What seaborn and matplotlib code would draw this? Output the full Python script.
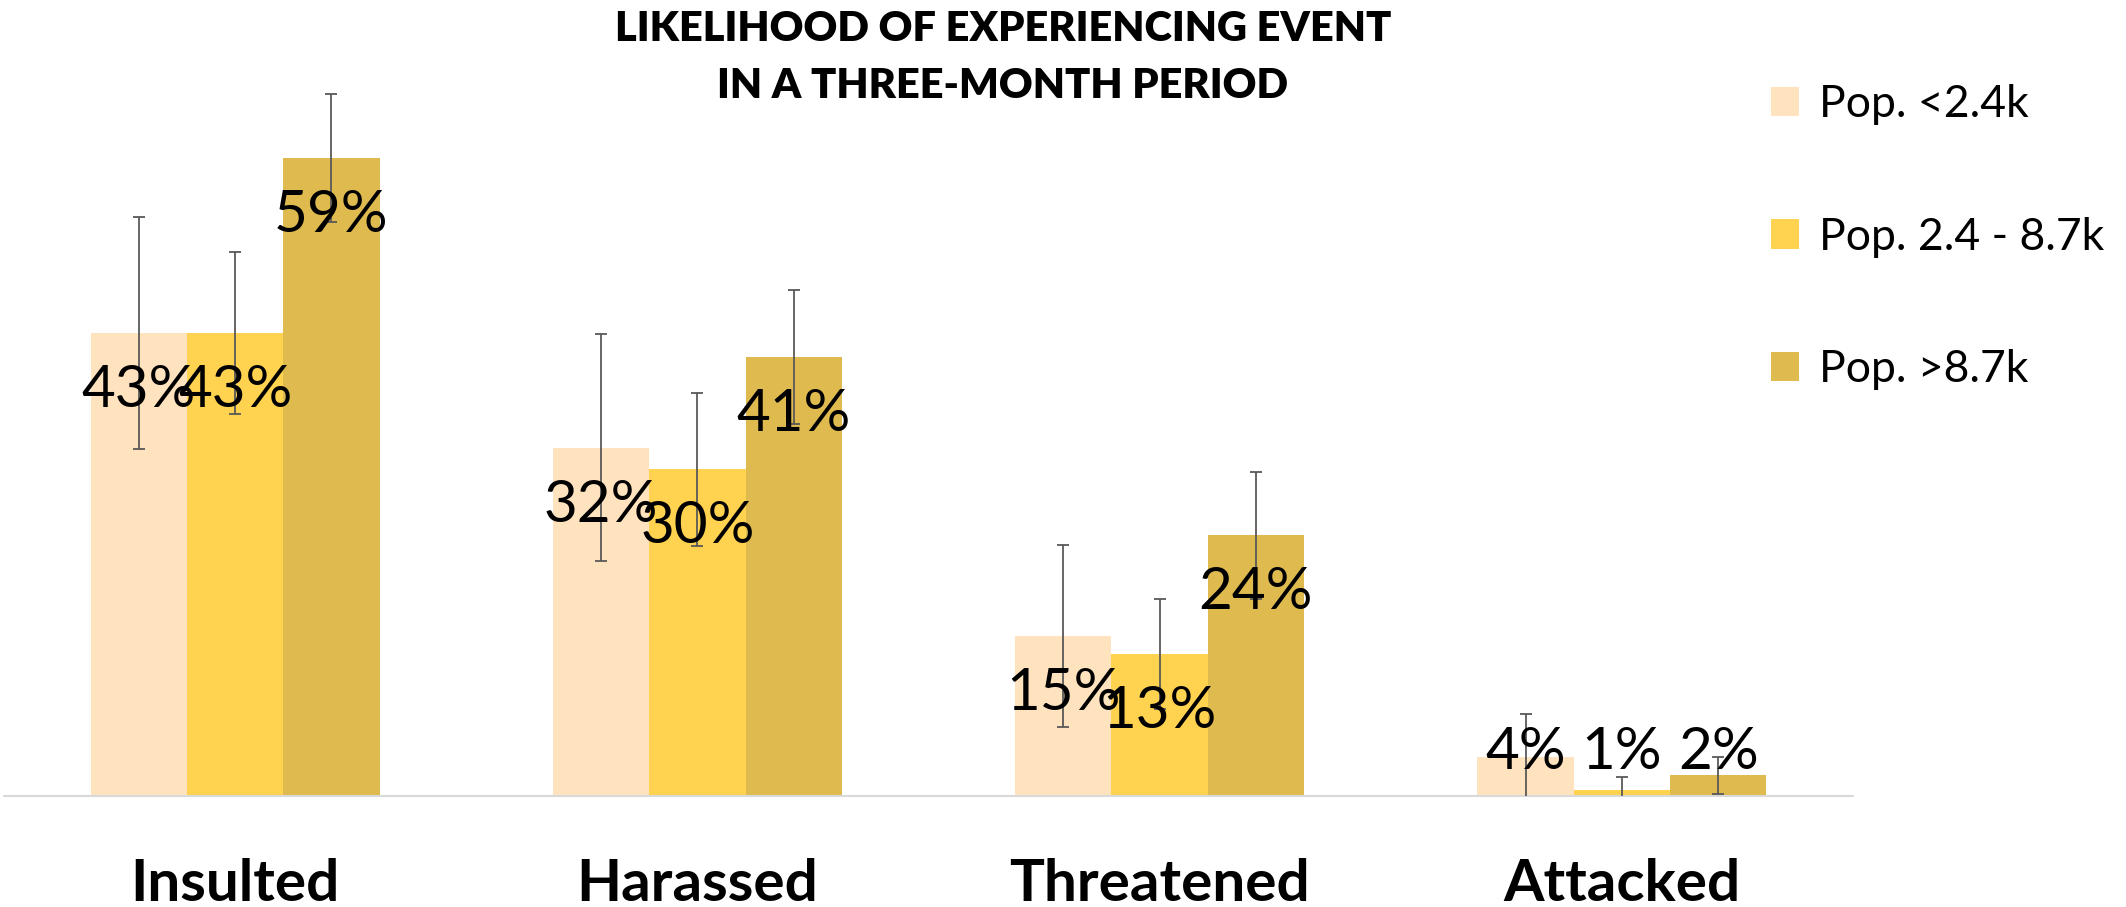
import pandas as pd
import matplotlib.pyplot as plt
import seaborn as sns

events = ['Insulted', 'Harassed', 'Threatened', 'Attacked']
groups = ['Pop. <2.4k', 'Pop. 2.4 - 8.7k', 'Pop. >8.7k']
colors = ['#FFE3BF', '#FFD24F', '#DFBB4F']

# % likelihood per event, one list per population group
small = [42.8, 32.2, 14.8, 3.6]
medium = [42.8, 30.2, 13.1, 0.6]
large = [59.0, 40.6, 24.1, 1.9]

# error bar half-lengths
small_err = [10.7, 10.5, 8.4, 4.0]
medium_err = [7.5, 7.1, 5.1, 1.2]
large_err = [5.9, 6.2, 5.9, 1.75]

rows = []
for g, vals, errs in zip(groups, [small, medium, large], [small_err, medium_err, large_err]):
    for e, v, er in zip(events, vals, errs):
        rows.append({'event': e, 'group': g, 'pct': v, 'err': er})
df = pd.DataFrame(rows)

sns.set_style('white')
plt.rcParams['font.family'] = ['Lato', 'DejaVu Sans']
plt.rcParams['text.color'] = 'black'
plt.rcParams['xtick.color'] = 'black'

fig = plt.figure(figsize=(21.26, 9.07), dpi=100)
ax = fig.add_axes([4/2126, 111/907, 1849/2126, 757/907])
sns.barplot(data=df, x='event', y='pct', hue='group', order=events, hue_order=groups,
            palette=colors, width=0.625, gap=0, errorbar=None, saturation=1,
            linewidth=0, ax=ax)

# custom error bars + data labels on each bar
for cont, g in zip(ax.containers, groups):
    sub = df[df['group'] == g].set_index('event').loc[events]
    xs = [p.get_x() + p.get_width() / 2 for p in cont]
    ax.errorbar(xs, sub['pct'], yerr=sub['err'], fmt='none', ecolor='#595959',
                elinewidth=1.3, capsize=4.3, capthick=1.3, zorder=3)
    for x, v in zip(xs, sub['pct']):
        y = max(v - 4.9, 4.44) - 1.95
        ax.text(x, y, f'{v:.0f}%', ha='center', va='baseline', fontsize=42,
                color='black', zorder=4)

ax.set_ylim(0, 70)
ax.set_xlim(-0.5, 3.5)
ax.set_xlabel('')
ax.set_ylabel('')
ax.set_yticks([])
ax.tick_params(axis='x', length=0, pad=44.6, labelsize=42, labelcolor='black')
for t in ax.get_xticklabels():
    t.set_fontweight('bold')
sns.despine(ax=ax, left=True, bottom=True)
ax.axhline(0, color='#D9D9D9', lw=1.5, clip_on=False, zorder=1)

handles, labels = ax.get_legend_handles_labels()
ax.get_legend().remove()
fig.legend(handles, labels, loc='upper left', bbox_to_anchor=(1771/2126, 1 - 84/907),
           frameon=False, fontsize=32, handlelength=0.64, handleheight=0.64,
           handletextpad=0.43, labelspacing=2.06, borderpad=0, borderaxespad=0,
           labelcolor='black')

fig.text(1003/2126, 1 - 10/907, 'LIKELIHOOD OF EXPERIENCING EVENT\nIN A THREE-MONTH PERIOD',
         ha='center', va='top', fontsize=30, fontweight='heavy', linespacing=1.6)

fig.savefig('out.png', dpi=100)
